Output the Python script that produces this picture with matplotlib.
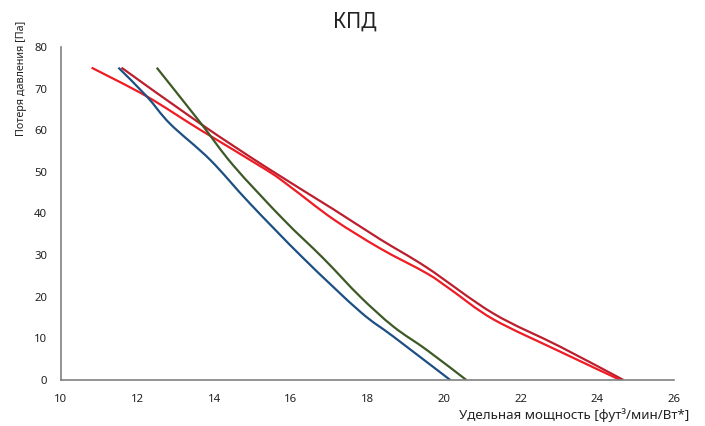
import matplotlib
matplotlib.use("Agg")
import matplotlib.pyplot as plt
from matplotlib.path import Path
from matplotlib.patches import PathPatch

# specific power (ft3/min/W) and pressure loss (Pa)
blue_x = [11.5, 12.24, 12.85, 13.89, 14.93, 16.33, 17.81, 18.68, 20.16]
blue_y = [75, 68.1, 61.5, 52.9, 42.4, 29.2, 16.4, 10.4, 0]

green_x = [12.5, 13.63, 14.5, 15.8, 16.85, 17.81, 18.68, 19.55, 20.58]
green_y = [75, 61.9, 51.5, 38.6, 29.2, 20.0, 12.8, 7.2, 0]

red_x = [10.8, 12.24, 13.63, 15.37, 16.0, 17.11, 18.33, 19.55, 20.16, 21.28, 23.03, 24.6]
red_y = [75, 68.1, 60.1, 50.4, 46.3, 38.6, 31.6, 25.6, 21.8, 14.6, 6.8, 0]

darkred_x = [11.58, 13.63, 15.37, 17.11, 18.33, 19.55, 21.28, 23.03, 24.68]
darkred_y = [75, 61.6, 51.0, 41.0, 33.8, 27.0, 16.0, 8.0, 0]

x_ticks = [10, 12, 14, 16, 18, 20, 22, 24, 26]
y_ticks = [0, 10, 20, 30, 40, 50, 60, 70, 80]


def smooth_line(ax, xs, ys, color):
    # smoothed line through the points (like a spreadsheet "smoothed line")
    pts = list(zip(xs, ys))
    verts = [pts[0]]
    codes = [Path.MOVETO]
    n = len(pts)
    for i in range(n - 1):
        p0 = pts[i - 1] if i > 0 else pts[i]
        p1 = pts[i]
        p2 = pts[i + 1]
        p3 = pts[i + 2] if i + 2 < n else pts[i + 1]
        c1 = (p1[0] + (p2[0] - p0[0]) / 6, p1[1] + (p2[1] - p0[1]) / 6)
        c2 = (p2[0] - (p3[0] - p1[0]) / 6, p2[1] - (p3[1] - p1[1]) / 6)
        verts += [c1, c2, p2]
        codes += [Path.CURVE4] * 3
    ax.add_patch(PathPatch(Path(verts, codes), fill=False, edgecolor=color,
                           linewidth=1.6, capstyle="butt", joinstyle="round"))


plt.rcParams['font.family'] = ['Noto Sans', 'DejaVu Sans']

fig = plt.figure(figsize=(7.05, 4.26), dpi=100)
ax = fig.add_axes([0.0865, 0.108, 0.8695, 0.782])

smooth_line(ax, darkred_x, darkred_y, "#bb1f2e")
smooth_line(ax, red_x, red_y, "#ee1c25")
smooth_line(ax, green_x, green_y, "#3d5a26")
smooth_line(ax, blue_x, blue_y, "#1d4f82")

ax.set_xlim(10, 26)
ax.set_ylim(0, 80)
ax.set_xticks(x_ticks)
ax.set_yticks(y_ticks)
ax.tick_params(axis="both", length=0, labelsize=8.2, colors="#222222")
ax.tick_params(axis="x", pad=10)
ax.tick_params(axis="y", pad=10)
for lbl in ax.get_xticklabels() + ax.get_yticklabels():
    lbl.set_fontweight("medium")

for s in ["top", "right"]:
    ax.spines[s].set_visible(False)
for s in ["left", "bottom"]:
    ax.spines[s].set_color("#808080")
    ax.spines[s].set_linewidth(1.2)

fig.text(0.503, 0.948, "КПД", ha="center", va="center", fontsize=15, color="#222222")
fig.text(0.031, 0.817, "Потеря давления [Па]", rotation=90, ha="center", va="center",
         fontsize=7.8, color="#222222")
fig.text(0.977, 0.026, "Удельная мощность [фут³/мин/Вт*]", ha="right", va="center",
         fontsize=9.6, color="#222222")

fig.savefig("out.png", dpi=100)
